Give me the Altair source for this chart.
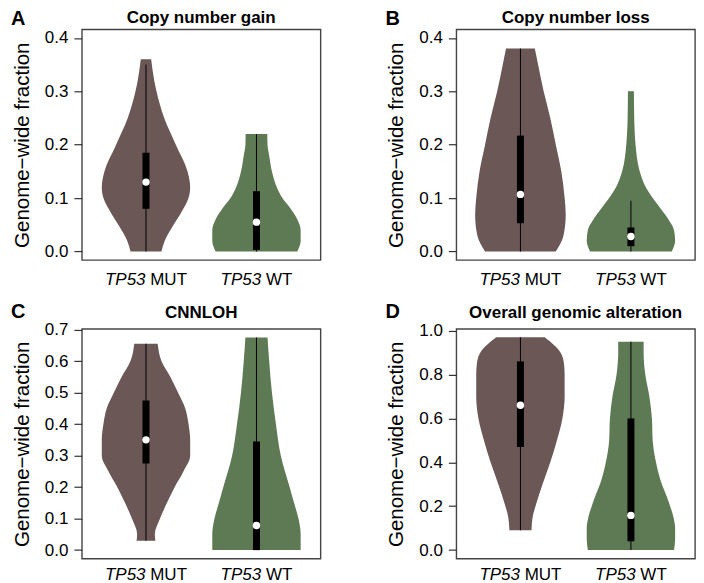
import altair as alt
import pandas as pd

FONT = "Liberation Sans"
groups = ["MUT", "WT"]
group_pos = [1, 2]
fill_colors = ["#6b5756", "#5e7a55"]
x_labels_prefix = "TP53"
x_labels_suffix = ["MUT", "WT"]
y_title = "Genome\u2212wide fraction"

# ---- violin outlines: y level and half-width (x units) ----
A_mut_y = [0.0, 0.02, 0.05, 0.07, 0.10, 0.12, 0.15, 0.20, 0.25, 0.30, 0.32, 0.36]
A_mut_w = [0.14, 0.17, 0.25, 0.31, 0.385, 0.40, 0.376, 0.27, 0.165, 0.095, 0.075, 0.047]
A_wt_y = [0.0, 0.02, 0.04, 0.06, 0.08, 0.10, 0.12, 0.15, 0.18, 0.20, 0.22]
A_wt_w = [0.37, 0.40, 0.40, 0.37, 0.31, 0.235, 0.185, 0.14, 0.115, 0.10, 0.098]

B_mut_y = [0.0, 0.03, 0.07, 0.10, 0.15, 0.20, 0.25, 0.30, 0.35, 0.38]
B_mut_w = [0.32, 0.39, 0.41, 0.40, 0.37, 0.32, 0.27, 0.21, 0.16, 0.13]
B_wt_y = [0.0, 0.02, 0.04, 0.06, 0.08, 0.10, 0.12, 0.15, 0.20, 0.25, 0.30]
B_wt_w = [0.37, 0.40, 0.39, 0.34, 0.27, 0.197, 0.136, 0.08, 0.042, 0.03, 0.027]

C_mut_y = [0.03, 0.05, 0.10, 0.15, 0.20, 0.25, 0.30, 0.35, 0.40, 0.45, 0.50, 0.55, 0.60, 0.655]
C_mut_w = [0.085, 0.08, 0.127, 0.19, 0.26, 0.34, 0.40, 0.40, 0.385, 0.355, 0.29, 0.22, 0.14, 0.106]
C_wt_y = [0.0, 0.05, 0.10, 0.15, 0.20, 0.30, 0.40, 0.50, 0.60, 0.675]
C_wt_w = [0.40, 0.40, 0.38, 0.34, 0.30, 0.22, 0.176, 0.14, 0.115, 0.10]

D_mut_y = [0.09, 0.15, 0.20, 0.30, 0.40, 0.50, 0.60, 0.70, 0.80, 0.85, 0.90, 0.97]
D_mut_w = [0.10, 0.11, 0.136, 0.20, 0.27, 0.33, 0.38, 0.40, 0.40, 0.394, 0.364, 0.22]
D_wt_y = [0.0, 0.05, 0.10, 0.15, 0.20, 0.25, 0.30, 0.40, 0.50, 0.60, 0.70, 0.80, 0.90, 0.95]
D_wt_w = [0.39, 0.40, 0.40, 0.385, 0.355, 0.32, 0.28, 0.227, 0.197, 0.19, 0.167, 0.13, 0.115, 0.115]

# ---- box stats: whisker low, q1, median, q3, whisker high ----
A_stats = [[0.0, 0.08, 0.13, 0.185, 0.35], [0.0, 0.003, 0.055, 0.113, 0.22]]
B_stats = [[0.0, 0.053, 0.107, 0.217, 0.38], [0.0, 0.01, 0.028, 0.045, 0.095]]
C_stats = [[0.03, 0.275, 0.35, 0.475, 0.655], [0.0, 0.0, 0.078, 0.345, 0.675]]
D_stats = [[0.09, 0.47, 0.66, 0.86, 0.97], [0.0, 0.04, 0.158, 0.60, 0.95]]

panel_titles = ["Copy number gain", "Copy number loss", "CNNLOH", "Overall genomic alteration"]
panel_letters = ["A", "B", "C", "D"]
y_domains = [[-0.016, 0.416], [-0.016, 0.416], [-0.027, 0.702], [-0.039, 1.008]]
y_ticks = [[0, 0.1, 0.2, 0.3, 0.4], [0, 0.1, 0.2, 0.3, 0.4],
           [0, 0.1, 0.2, 0.3, 0.4, 0.5, 0.6, 0.7], [0, 0.2, 0.4, 0.6, 0.8, 1.0]]

W = 239
FS = 17
CW = {"T": 0.611, "P": 0.667, "5": 0.556, "3": 0.556, " ": 0.278,
      "M": 0.833, "U": 0.722, "W": 0.944}


def tw(s):
    return sum(CW[c] for c in s) * FS


xscale = alt.Scale(domain=[0.42, 2.58], nice=False, zero=False)


def panel(idx, violins, stats, H, title_dy, letter_dy, lab_dy):
    yscale = alt.Scale(domain=y_domains[idx], nice=False, zero=False)
    yaxis = alt.Axis(values=y_ticks[idx], format=".1f", title=y_title,
                     titleFontSize=20.5, titleFontWeight="normal", titleColor="black",
                     titleX=-53.5, titleY=H / 2, titleAngle=270, titleAlign="center",
                     titleBaseline="alphabetic", labelFontSize=FS, labelColor="black",
                     labelPadding=6, tickSize=8, tickColor="#333", tickWidth=1.2,
                     domain=False, grid=False)
    rows = []
    for g, p, (ys, ws) in zip(groups, group_pos, violins):
        for yv, wv in zip(ys, ws):
            rows.append({"group": g, "pos": p, "y": yv, "lo": p - wv, "hi": p + wv})
    vdf = pd.DataFrame(rows)
    sdf = pd.DataFrame([{"group": g, "pos": p, "wlo": s[0], "q1": s[1], "med": s[2],
                         "q3": s[3], "whi": s[4]} for g, p, s in zip(groups, group_pos, stats)])

    violin = alt.Chart(vdf).mark_area(orient="horizontal", interpolate="monotone").encode(
        y=alt.Y("y:Q", scale=yscale, axis=yaxis),
        x=alt.X("lo:Q", scale=xscale, axis=None),
        x2="hi:Q",
        color=alt.Color("group:N", scale=alt.Scale(domain=groups, range=fill_colors), legend=None),
    )
    whisk = alt.Chart(sdf).mark_rule(color="black", strokeWidth=1).encode(
        x=alt.X("pos:Q", scale=xscale, axis=None),
        y=alt.Y("wlo:Q", scale=yscale, axis=yaxis), y2="whi:Q")
    box = alt.Chart(sdf).mark_rule(color="black", strokeWidth=7, strokeCap="butt").encode(
        x=alt.X("pos:Q", scale=xscale, axis=None),
        y=alt.Y("q1:Q", scale=yscale, axis=yaxis), y2="q3:Q")
    med = alt.Chart(sdf).mark_point(filled=True, color="white", opacity=1, size=55,
                                    shape="circle").encode(
        x=alt.X("pos:Q", scale=xscale, axis=None),
        y=alt.Y("med:Q", scale=yscale, axis=yaxis))

    layers = [violin, whisk, box, med]
    for p, suf in zip(group_pos, x_labels_suffix):
        total = tw(x_labels_prefix) + tw(" ") + tw(suf)
        ldf = pd.DataFrame({"pos": [p], "a": [x_labels_prefix], "b": [suf]})
        layers.append(alt.Chart(ldf).mark_text(
            align="left", baseline="alphabetic", fontSize=FS, fontStyle="italic",
            color="black", dx=-total / 2).encode(
            x=alt.X("pos:Q", scale=xscale, axis=None), y=alt.value(H + lab_dy), text="a:N"))
        layers.append(alt.Chart(ldf).mark_text(
            align="left", baseline="alphabetic", fontSize=FS, color="black",
            dx=-total / 2 + tw(x_labels_prefix + " ")).encode(
            x=alt.X("pos:Q", scale=xscale, axis=None), y=alt.value(H + lab_dy), text="b:N"))

    tdf = pd.DataFrame({"t": [panel_titles[idx]], "l": [panel_letters[idx]]})
    layers.append(alt.Chart(tdf).mark_text(
        align="center", baseline="alphabetic", fontSize=17, fontWeight="bold",
        color="black").encode(x=alt.value(W / 2), y=alt.value(title_dy), text="t:N"))
    layers.append(alt.Chart(tdf).mark_text(
        align="left", baseline="alphabetic", fontSize=20, fontWeight="bold",
        color="black").encode(x=alt.value(-71), y=alt.value(letter_dy), text="l:N"))
    return alt.layer(*layers).properties(width=W, height=H)


pA = panel(0, [(A_mut_y, A_mut_w), (A_wt_y, A_wt_w)], A_stats, 231, -6, -4, 25)
pB = panel(1, [(B_mut_y, B_mut_w), (B_wt_y, B_wt_w)], B_stats, 231, -6, -4, 25)
pC = panel(2, [(C_mut_y, C_mut_w), (C_wt_y, C_wt_w)], C_stats, 230, -10.5, -11, 21)
pD = panel(3, [(D_mut_y, D_mut_w), (D_wt_y, D_wt_w)], D_stats, 230, -10.5, -11, 21)

chart = alt.concat(pA, pB, pC, pD, columns=2,
                   spacing=alt.RowColnumber(row=69, column=136),
                   bounds="flush").properties(
    padding={"left": 2, "top": 0, "right": 0, "bottom": 0}
).configure(font=FONT).configure_view(stroke="#444", strokeWidth=1.4)

chart.save("out.html", embed_options={"renderer": "svg", "actions": False})
